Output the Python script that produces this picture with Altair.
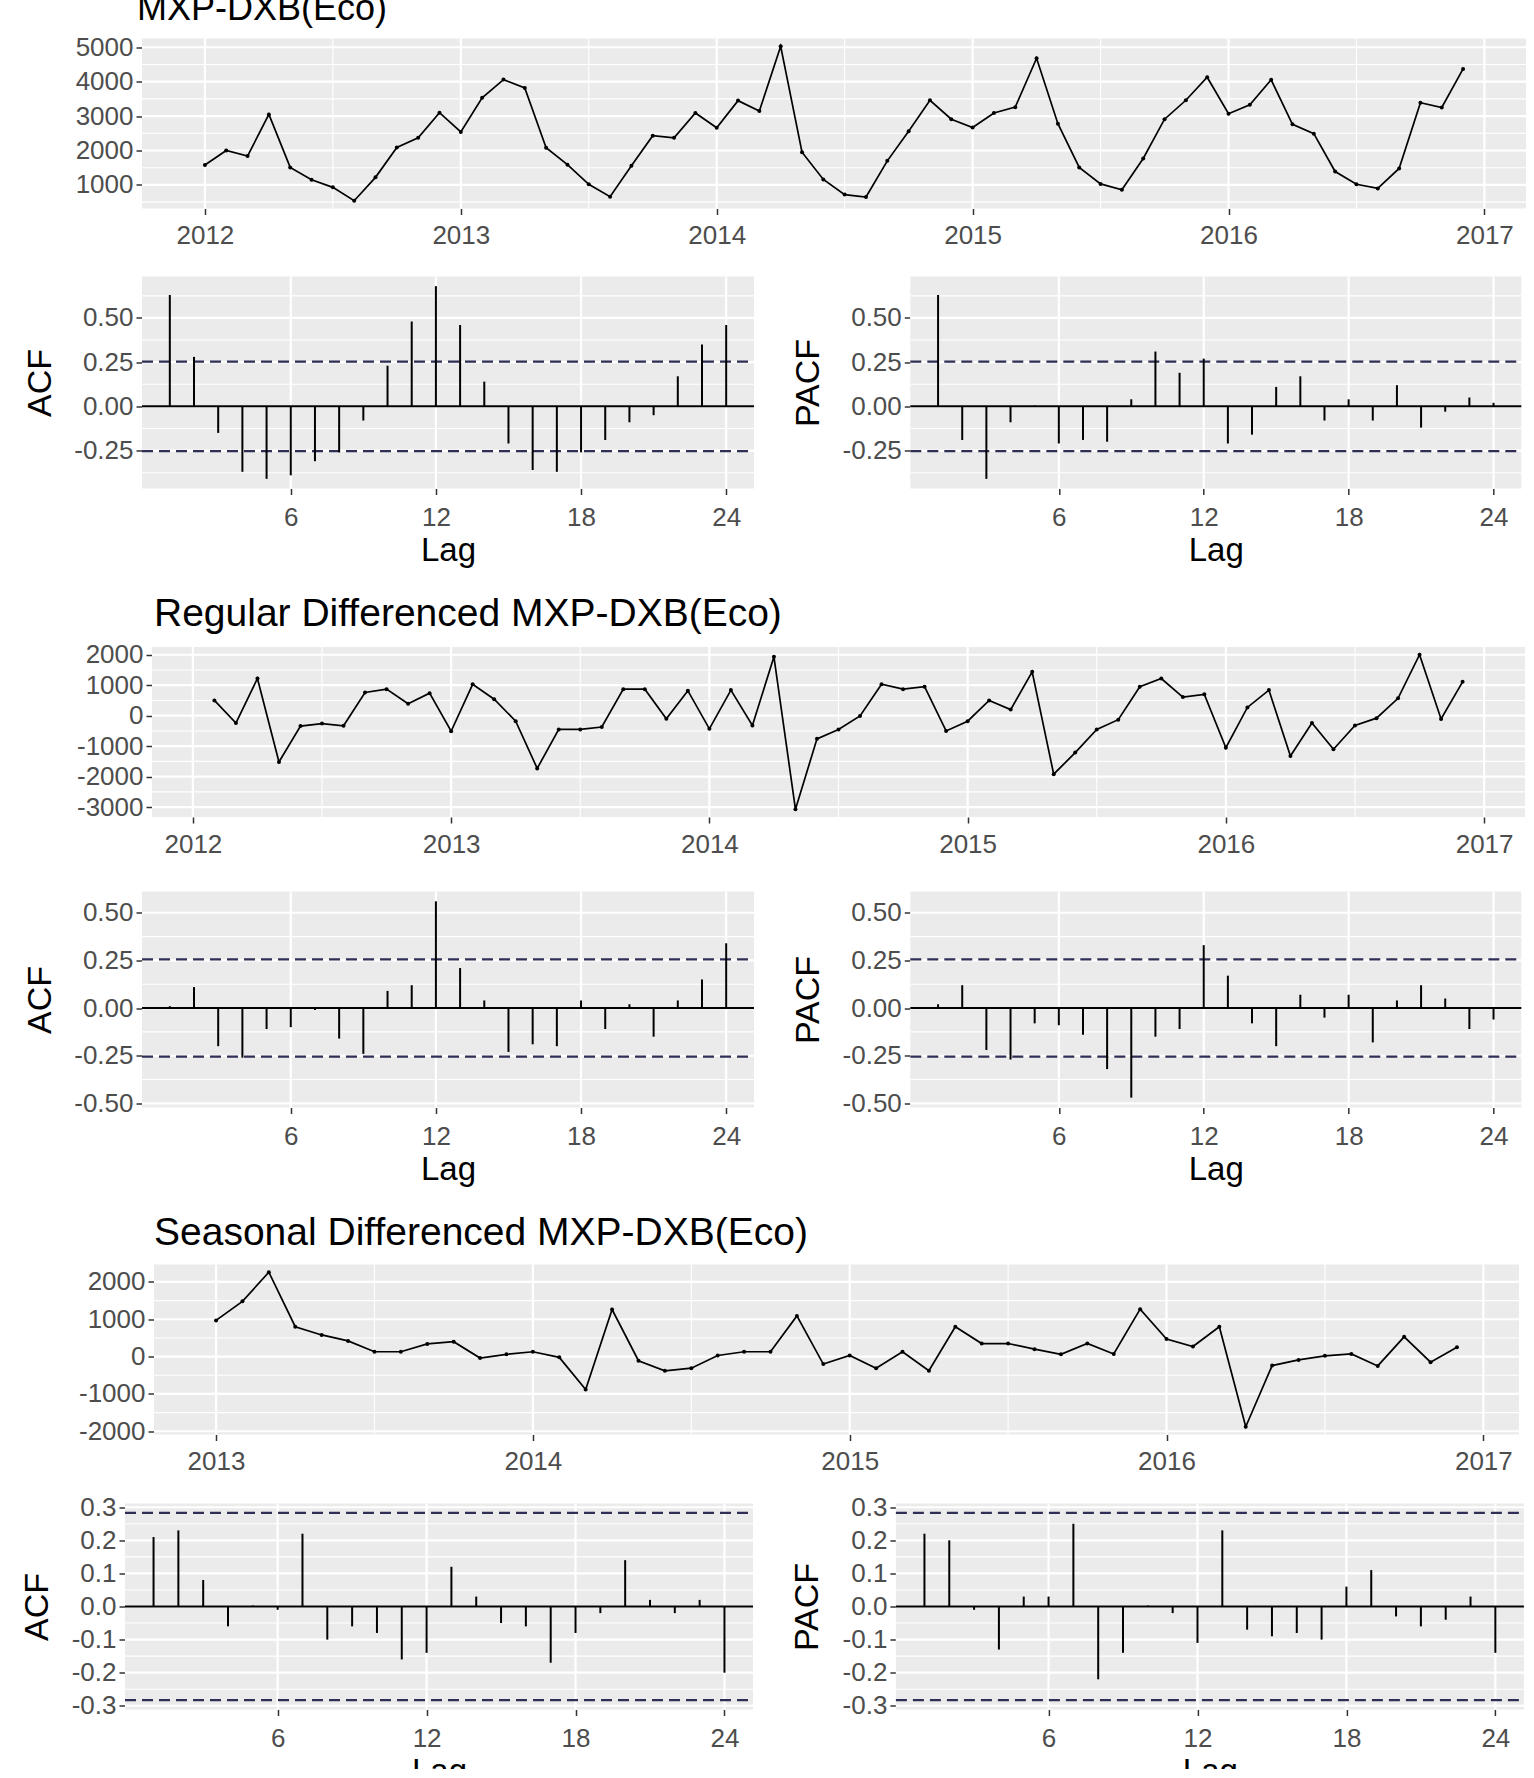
import altair as alt
import pandas as pd

FONT = "Liberation Sans, Arial, Helvetica, sans-serif"
PANEL_BG = "#EBEBEB"
LABEL_GREY = "#4D4D4D"
TICK_GREY = "#333333"
CI_COLOUR = "#2F2F55"

LABEL_SIZE = 26
Y_TITLE_SIZE = 34
X_TITLE_SIZE = 33

# ---------------------------------------------------------------- data
start_year = 2012  # series starts January 2012, monthly

# MXP-DXB (Eco), Jan 2012 - Dec 2016
mxp_dxb = [
    1580, 2000, 1840, 3050, 1510, 1150, 930, 540, 1220, 2090, 2370, 3100,
    2540, 3530, 4060, 3820, 2080, 1590, 1020, 660, 1560, 2430, 2370, 3090,
    2660, 3450, 3150, 5030, 1950, 1160, 720, 650, 1700, 2560, 3460, 2910,
    2670, 3090, 3260, 4680, 2780, 1510, 1030, 860, 1770, 2910, 3460, 4130,
    3070, 3330, 4055, 2760, 2490, 1390, 1020, 900, 1480, 3390, 3250, 4370,
]

# regular (lag 1) difference, Feb 2012 - Dec 2016
mxp_dxb_diff = [
    500, -240, 1220, -1520, -340, -260, -330, 760, 870, 390, 740,
    -510, 1030, 540, -180, -1730, -450, -450, -370, 870, 870, -100, 820,
    -430, 840, -320, 1930, -3070, -760, -450, -10, 1030, 870, 950, -500,
    -180, 500, 200, 1440, -1920, -1210, -450, -130, 950, 1220, 610, 700,
    -1050, 270, 840, -1320, -240, -1100, -320, -80, 570, 2000, -110, 1110,
]

# seasonal (lag 12) difference, Jan 2013 - Dec 2016
mxp_dxb_sdiff = [
    970, 1480, 2260, 800, 580, 420, 130, 130, 340, 400, -40, 60,
    130, -20, -880, 1260, -110, -380, -310, 30, 130, 130, 1090, -200,
    30, -310, 130, -380, 800, 350, 350, 200, 60, 350, 70, 1270,
    470, 270, 800, -1880, -240, -90, 20, 70, -250, 530, -150, 250,
]

lags = list(range(1, 25))

acf_level = [0.63, 0.28, -0.15, -0.37, -0.41, -0.39, -0.31, -0.26, -0.08, 0.23, 0.48, 0.68,
             0.46, 0.14, -0.21, -0.36, -0.37, -0.26, -0.19, -0.09, -0.05, 0.17, 0.35, 0.46]
pacf_level = [0.63, -0.19, -0.41, -0.09, 0.005, -0.21, -0.19, -0.20, 0.04, 0.31, 0.19, 0.27,
              -0.21, -0.16, 0.11, 0.17, -0.08, 0.04, -0.08, 0.12, -0.12, -0.03, 0.05, 0.02]

acf_diff = [0.01, 0.11, -0.20, -0.26, -0.11, -0.10, -0.01, -0.16, -0.24, 0.09, 0.12, 0.56,
            0.21, 0.04, -0.23, -0.19, -0.20, 0.04, -0.11, 0.02, -0.15, 0.04, 0.15, 0.34]
pacf_diff = [0.02, 0.12, -0.22, -0.27, -0.08, -0.09, -0.14, -0.32, -0.47, -0.15, -0.11, 0.33,
             0.17, -0.08, -0.20, 0.07, -0.05, 0.07, -0.18, 0.04, 0.12, 0.05, -0.11, -0.06]

acf_sdiff = [0.21, 0.23, 0.08, -0.06, 0.003, -0.01, 0.22, -0.10, -0.06, -0.08, -0.16, -0.14,
             0.12, 0.03, -0.05, -0.06, -0.17, -0.08, -0.02, 0.14, 0.02, -0.02, 0.02, -0.20]
pacf_sdiff = [0.22, 0.20, -0.01, -0.13, 0.03, 0.03, 0.25, -0.22, -0.14, 0.003, -0.02, -0.11,
              0.23, -0.07, -0.09, -0.08, -0.10, 0.06, 0.11, -0.03, -0.06, -0.04, 0.03, -0.14]

# 95% significance bounds of each correlogram pair
ci_bounds = [0.253, 0.255, 0.283]

# axis breaks
year_major_a = [2012, 2013, 2014, 2015, 2016, 2017]
year_minor_a = [2012.5, 2013.5, 2014.5, 2015.5, 2016.5]
year_major_b = [2013, 2014, 2015, 2016, 2017]
year_minor_b = [2013.5, 2014.5, 2015.5, 2016.5]

level_major = [1000, 2000, 3000, 4000, 5000]
level_minor = [500, 1500, 2500, 3500, 4500]
diff_major = [-3000, -2000, -1000, 0, 1000, 2000]
diff_minor = [-2500, -1500, -500, 500, 1500]
sdiff_major = [-2000, -1000, 0, 1000, 2000]
sdiff_minor = [-1500, -500, 500, 1500]

lag_major = [6, 12, 18, 24]
r_major_a = [-0.25, 0.0, 0.25, 0.5]
r_minor_a = [-0.375, -0.125, 0.125, 0.375, 0.625]
r_major_b = [-0.5, -0.25, 0.0, 0.25, 0.5]
r_minor_b = [-0.375, -0.125, 0.125, 0.375]
r_major_c = [-0.3, -0.2, -0.1, 0.0, 0.1, 0.2, 0.3]
r_minor_c = [-0.25, -0.15, -0.05, 0.05, 0.15, 0.25]

# ---------------------------------------------------------------- layout
TS_H = 170
ACF_H = [212, 216, 206]
TS_W = [1384, 1373, 1365]       # grey panel widths
TS_SHIFT = [17, 27, 29]         # panel left edge relative to the column origin
ACF_W = [612, 612, 628]
ACF_SHIFT = [17, 17, 0]
PACF_W = [611, 611, 628]
Y_EXTENT = [69, 69, 54]
Y_TITLE_PAD = [16, 16, 17]
H_SPACE = [35.3, 35.3, 35.9]
V_SPACE_IN = [26, 32.5, 19]
V_SPACE_OUT = 26.5
TITLE_SIZE = [36, 39, 39]
TITLE_OFFSET = [6, 7.8, 10.8]
TITLE_DX = [12, 29, 29]


def expand(lo, hi, mult=0.05):
    d = (hi - lo) * mult
    return lo - d, hi + d


def minus_fix(fmt):
    return "replace(format(datum.value, '%s'), '\u2212', '-')" % fmt


def y_axis(values, fmt, shift, title=None, extent=None, title_pad=16):
    kw = dict(values=values, labelExpr=minus_fix(fmt), labelFont=FONT,
              labelFontSize=LABEL_SIZE, labelColor=LABEL_GREY, labelPadding=3,
              tickSize=6, tickWidth=1.5, tickColor=TICK_GREY, domain=False,
              grid=False, labelOverlap=False, offset=-shift, title=title)
    if title:
        kw.update(titleFont=FONT, titleFontSize=Y_TITLE_SIZE,
                  titleFontWeight="normal", titleColor="black", titlePadding=title_pad)
    if extent:
        kw.update(minExtent=extent, maxExtent=extent)
    return alt.Axis(**kw)


def x_axis(values, shift, width, title=None):
    kw = dict(values=values, format="d", labelFont=FONT, labelFontSize=LABEL_SIZE,
              labelColor=LABEL_GREY, labelPadding=8, tickSize=6, tickWidth=1.5,
              tickColor=TICK_GREY, domain=False, grid=False, labelFlush=False,
              labelOverlap=False, title=title)
    if title:
        kw.update(labelPadding=10, titleFont=FONT, titleFontSize=X_TITLE_SIZE,
                  titleFontWeight="normal", titleColor="black", titlePadding=4,
                  titleX=shift + width / 2)
    return alt.Axis(**kw)


def panel_layers(xs, ys, xa, ya, xlim, ylim, x_major, x_minor, y_major, y_minor):
    """Grey panel with white major / minor grid lines, ggplot style."""
    bg = alt.Chart(pd.DataFrame({"x0": [xlim[0]], "x1": [xlim[1]],
                                 "y0": [ylim[0]], "y1": [ylim[1]]})).mark_rect(
        color=PANEL_BG).encode(
        x=alt.X("x0:Q", scale=xs, axis=xa), x2="x1:Q",
        y=alt.Y("y0:Q", scale=ys, axis=ya), y2="y1:Q")
    out = [bg]
    for vals, w in ((y_minor, 1.1), (y_major, 2.2)):
        if vals:
            d = pd.DataFrame({"v": vals, "a": xlim[0], "b": xlim[1]})
            out.append(alt.Chart(d).mark_rule(color="white", strokeWidth=w).encode(
                y=alt.Y("v:Q", scale=ys, axis=ya),
                x=alt.X("a:Q", scale=xs, axis=xa), x2="b:Q"))
    for vals, w in ((x_minor, 1.1), (x_major, 2.2)):
        if vals:
            d = pd.DataFrame({"v": vals, "a": ylim[0], "b": ylim[1]})
            out.append(alt.Chart(d).mark_rule(color="white", strokeWidth=w).encode(
                x=alt.X("v:Q", scale=xs, axis=xa),
                y=alt.Y("a:Q", scale=ys, axis=ya), y2="b:Q"))
    return out


def ts_panel(values, first_month, title, k, x_major, x_minor, y_major, y_minor):
    t = [start_year + (first_month + i) / 12 for i in range(len(values))]
    df = pd.DataFrame({"t": t, "v": values})
    xlim = expand(min(t), max(t))
    ylim = expand(min(values), max(values))
    width, shift = TS_W[k], TS_SHIFT[k]
    lo = xlim[0] - shift * (xlim[1] - xlim[0]) / width
    xs = alt.Scale(domain=[lo, xlim[1]], nice=False, zero=False)
    ys = alt.Scale(domain=list(ylim), nice=False, zero=False)
    xa = x_axis(x_major, shift, width)
    ya = y_axis(y_major, "d", shift)
    layers = panel_layers(xs, ys, xa, ya, xlim, ylim, x_major, x_minor, y_major, y_minor)
    line = alt.Chart(df).mark_line(color="black", strokeWidth=1.7).encode(
        x=alt.X("t:Q", scale=xs, axis=xa), y=alt.Y("v:Q", scale=ys, axis=ya))
    pts = line.mark_circle(color="black", size=16, opacity=1)
    return alt.layer(*layers, line, pts).properties(
        width=width + shift, height=TS_H,
        title=alt.TitleParams(title, font=FONT, fontSize=TITLE_SIZE[k], fontWeight="normal",
                              color="black", anchor="start", frame="group",
                              offset=TITLE_OFFSET[k], dx=TITLE_DX[k]))


def corr_panel(vals, ci, ylim, label, width, shift, height, y_major, y_minor, fmt,
               extent, title_pad):
    xlim = expand(min(lags), max(lags))
    lo = xlim[0] - shift * (xlim[1] - xlim[0]) / width
    xs = alt.Scale(domain=[lo, xlim[1]], nice=False, zero=False)
    ys = alt.Scale(domain=list(ylim), nice=False, zero=False)
    xa = x_axis(lag_major, shift, width, title="Lag")
    ya = y_axis(y_major, fmt, shift, title=label, extent=extent, title_pad=title_pad)
    layers = panel_layers(xs, ys, xa, ya, xlim, ylim, lag_major, [], y_major, y_minor)
    bars_df = pd.DataFrame({"lag": lags, "r": vals, "base": 0.0})
    bars = alt.Chart(bars_df).mark_rule(color="black", strokeWidth=2).encode(
        x=alt.X("lag:Q", scale=xs, axis=xa),
        y=alt.Y("r:Q", scale=ys, axis=ya), y2="base:Q")
    zero = alt.Chart(pd.DataFrame({"v": [0.0], "a": xlim[0], "b": xlim[1]})).mark_rule(
        color="black", strokeWidth=2).encode(
        y=alt.Y("v:Q", scale=ys, axis=ya), x=alt.X("a:Q", scale=xs, axis=xa), x2="b:Q")
    band = alt.Chart(pd.DataFrame({"v": [ci, -ci], "a": xlim[0], "b": xlim[1]})).mark_rule(
        color=CI_COLOUR, strokeWidth=2.2, strokeDash=[11, 6]).encode(
        y=alt.Y("v:Q", scale=ys, axis=ya), x=alt.X("a:Q", scale=xs, axis=xa), x2="b:Q")
    return alt.layer(*layers, zero, band, bars).properties(width=width + shift, height=height)


sections = [
    ("MXP-DXB(Eco)", mxp_dxb, 0, acf_level, pacf_level,
     year_major_a, year_minor_a, level_major, level_minor, r_major_a, r_minor_a, ".2f"),
    ("Regular Differenced MXP-DXB(Eco)", mxp_dxb_diff, 1, acf_diff, pacf_diff,
     year_major_a, year_minor_a, diff_major, diff_minor, r_major_b, r_minor_b, ".2f"),
    ("Seasonal Differenced MXP-DXB(Eco)", mxp_dxb_sdiff, 12, acf_sdiff, pacf_sdiff,
     year_major_b, year_minor_b, sdiff_major, sdiff_minor, r_major_c, r_minor_c, ".1f"),
]

blocks = []
for k, (title, series, first, acf, pacf, xM, xm, yM, ym, rM, rm, fmt) in enumerate(sections):
    ci = ci_bounds[k]
    ylim = expand(min(acf + pacf + [-ci]), max(acf + pacf + [ci]))
    ts = ts_panel(series, first, title, k, xM, xm, yM, ym)
    left = corr_panel(acf, ci, ylim, "ACF", ACF_W[k], ACF_SHIFT[k], ACF_H[k], rM, rm, fmt,
                      Y_EXTENT[k], Y_TITLE_PAD[k])
    right = corr_panel(pacf, ci, ylim, "PACF", PACF_W[k], 0, ACF_H[k], rM, rm, fmt,
                       Y_EXTENT[k], Y_TITLE_PAD[k])
    blocks.append(alt.vconcat(ts, alt.hconcat(left, right, spacing=H_SPACE[k]),
                              spacing=V_SPACE_IN[k]))

chart = alt.vconcat(*blocks, spacing=V_SPACE_OUT).properties(
    padding={"left": 20, "top": -9.5, "right": 0, "bottom": -20},
    background="white",
).configure_view(strokeWidth=0)

chart.save("out.html", embed_options={"renderer": "svg", "actions": False})
